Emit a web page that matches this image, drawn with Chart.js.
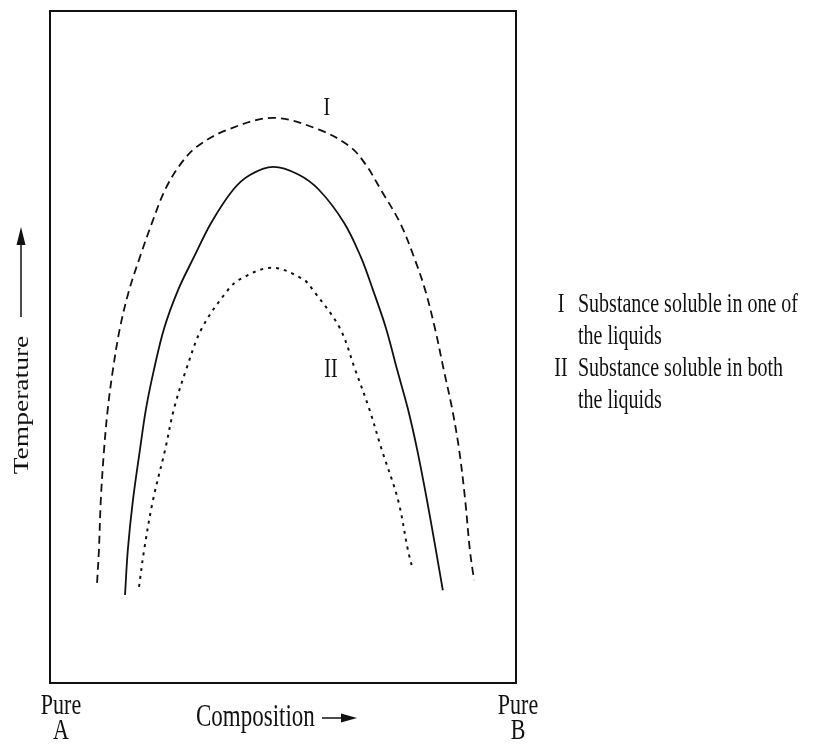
<!DOCTYPE html>
<html>
<head>
<meta charset="utf-8">
<script src="https://cdn.jsdelivr.net/npm/chart.js@4"></script>
<style>
html,body{margin:0;padding:0;background:#fff;}
canvas{display:block;}
</style>
</head>
<body>
<canvas id="c" width="831" height="744"></canvas>
<script>
// Composition (0 = pure A, 100 = pure B) and temperature (arbitrary 0-100)
const curveIComp = [10.1,10.5,10.9,11.6,12.4,13.5,15.0,17.0,19.3,21.9,24.7,27.9,31.5,38.0,47.9,57.9,64.4,67.8,71.0,75.1,78.1,80.5,82.6,84.5,86.3,87.8,89.1,90.1,91.0];
const curveITemp = [14.9,19.8,27.2,34.7,40.8,46.6,52.8,58.5,63.4,68.5,73.4,77.1,79.8,82.3,84.1,82.3,79.8,77.1,73.4,68.5,63.4,58.5,52.8,46.6,40.8,34.7,27.2,19.8,15.3];
const pureComp = [16.1,16.7,17.8,19.3,20.6,22.3,24.5,27.5,30.9,34.6,39.3,42.9,47.9,53.2,57.7,63.1,66.7,69.3,72.1,74.5,76.8,78.8,80.9,82.8,84.3];
const pureTemp = [13.1,19.8,27.2,34.7,40.8,46.6,52.8,58.5,63.4,68.5,73.4,75.6,76.8,75.7,73.4,68.5,63.4,58.5,52.8,46.6,40.8,34.7,27.2,19.8,13.8];
const curveIIComp = [19.1,20.2,22.1,24.7,26.6,29.2,32.6,38.2,40.8,47.6,54.3,56.4,62.2,65.5,68.5,71.2,74.7,76.8,77.7];
const curveIITemp = [14.3,19.8,27.2,34.7,40.8,46.6,52.8,58.5,60.1,61.8,60.1,58.5,52.8,46.6,40.8,34.7,27.2,19.8,17.3];

const curveLabels = ["I", "II"];
const legendLines = [["I", "Substance soluble in one of", "the liquids"], ["II", "Substance soluble in both", "the liquids"]];
const xAxisTitle = "Composition";
const yAxisTitle = "Temperature";
const xEndLabels = [["Pure", "A"], ["Pure", "B"]];

function pts(xs, ys){ return xs.map((x,i)=>({x:x, y:ys[i]})); }

const FONT = '"Liberation Serif", "Times New Roman", serif';
function txt(ctx, s, x, y, size, sy, align){
  ctx.save();
  ctx.translate(x, y);
  ctx.scale(1, sy);
  ctx.font = size + 'px ' + FONT;
  ctx.textAlign = align || 'left';
  ctx.textBaseline = 'alphabetic';
  ctx.fillStyle = '#111';
  ctx.fillText(s, 0, 0);
  ctx.restore();
}

const decor = {
  id: 'decor',
  beforeDraw(chart){
    const ctx = chart.ctx;
    ctx.save();
    ctx.fillStyle = '#fff';
    ctx.fillRect(0, 0, chart.width, chart.height);
    ctx.restore();
  },
  afterDraw(chart){
    const ctx = chart.ctx;
    const a = chart.chartArea;
    const xs = chart.scales.x;
    ctx.save();
    // frame
    ctx.strokeStyle = '#111';
    ctx.lineWidth = 2;
    ctx.strokeRect(a.left, a.top, a.right - a.left, a.bottom - a.top);

    // curve labels
    txt(ctx, curveLabels[0], xs.getPixelForValue(59.4), 115, 20, 1.3, 'center');
    txt(ctx, curveLabels[1], xs.getPixelForValue(60.3), 377, 20, 1.35, 'center');

    // legend text
    const lx = a.right + 45, tx = a.right + 62;
    let base = 312;
    legendLines.forEach(l => {
      txt(ctx, l[0], lx, base, 20, 1.4, 'center');
      txt(ctx, l[1], tx, base, 20, 1.4, 'left');
      txt(ctx, l[2], tx, base + 32, 20, 1.4, 'left');
      base += 64;
    });

    // x axis end labels
    txt(ctx, xEndLabels[0][0], 61, 714, 22, 1.35, 'center');
    txt(ctx, xEndLabels[0][1], 61, 739, 22, 1.35, 'center');
    txt(ctx, xEndLabels[1][0], 518, 714, 22, 1.35, 'center');
    txt(ctx, xEndLabels[1][1], 518, 739, 22, 1.35, 'center');

    // x axis title with arrow
    txt(ctx, xAxisTitle, 196, 726, 23, 1.35, 'left');
    ctx.fillStyle = '#111';
    ctx.strokeStyle = '#111';
    ctx.lineWidth = 1.5;
    ctx.beginPath(); ctx.moveTo(322, 718); ctx.lineTo(347, 718); ctx.stroke();
    ctx.beginPath(); ctx.moveTo(357, 718); ctx.lineTo(341, 713.5); ctx.lineTo(341, 722.5); ctx.closePath(); ctx.fill();

    // y axis title (rotated) with arrow
    ctx.save();
    ctx.translate(28, 405);
    ctx.rotate(-Math.PI/2);
    ctx.scale(1.25, 1);
    ctx.font = '22px ' + FONT;
    ctx.textAlign = 'center';
    ctx.textBaseline = 'alphabetic';
    ctx.fillStyle = '#111';
    ctx.fillText(yAxisTitle, 0, 0);
    ctx.restore();
    ctx.beginPath(); ctx.moveTo(21, 317); ctx.lineTo(21, 240); ctx.stroke();
    ctx.beginPath(); ctx.moveTo(21, 227); ctx.lineTo(16.5, 245); ctx.lineTo(25.5, 245); ctx.closePath(); ctx.fill();
    ctx.restore();
  }
};

new Chart(document.getElementById('c'), {
  type: 'scatter',
  data: {
    datasets: [
      { data: pts(curveIComp, curveITemp), showLine: true, borderColor: '#111', borderWidth: 1.8, borderDash: [8, 5], pointRadius: 0, tension: 0.35, fill: false },
      { data: pts(pureComp, pureTemp), showLine: true, borderColor: '#111', borderWidth: 1.8, pointRadius: 0, tension: 0.35, fill: false },
      { data: pts(curveIIComp, curveIITemp), showLine: true, borderColor: '#111', borderWidth: 2, borderDash: [3, 5], pointRadius: 0, tension: 0.35, fill: false }
    ]
  },
  options: {
    responsive: false,
    animation: false,
    events: [],
    layout: { padding: { left: 50, top: 11, right: 315, bottom: 61 } },
    plugins: { legend: { display: false }, tooltip: { enabled: false }, title: { display: false } },
    scales: {
      x: { type: 'linear', min: 0, max: 100, display: false },
      y: { type: 'linear', min: 0, max: 100, display: false }
    }
  },
  plugins: [decor]
});
</script>
</body>
</html>
